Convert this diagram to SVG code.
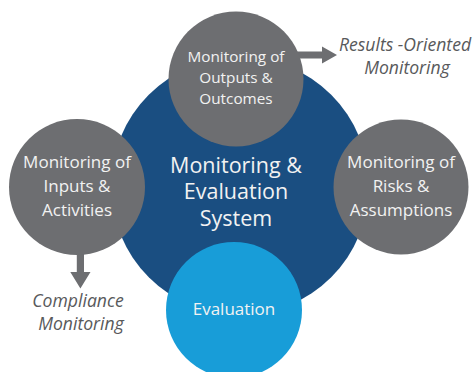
<svg xmlns="http://www.w3.org/2000/svg" width="474" height="372" viewBox="0 0 474 372">
<style>
.gray{fill:#6d6e71}
.lbl{font-family:"Open Sans","Liberation Sans",sans-serif;fill:#f2f2f2;text-anchor:middle}
.it{font-family:"Open Sans","Liberation Sans",sans-serif;font-style:italic;fill:#58595b;text-anchor:middle;font-size:17.6px}
</style>
<rect width="474" height="372" fill="#ffffff"/>
<g id="connectors">
<path class="gray" d="M290 51.5 H322 V46.5 L337 55 L322 63.5 V58.5 H290 Z"/>
<path class="gray" d="M76.8 240 H84 V272 H90.5 L80.4 288.5 L70.3 272 H76.8 Z"/>
</g>
<g id="system">
<circle cx="240" cy="186" r="129" fill="#1a4e81"/>
<text class="lbl" font-size="21.5" x="236"><tspan x="236" y="173">Monitoring &amp;</tspan><tspan x="236" y="199">Evaluation</tspan><tspan x="236" y="226">System</tspan></text>
</g>
<g id="outputs">
<circle class="gray" cx="236" cy="79" r="67.5"/>
<text class="lbl" font-size="15.3"><tspan x="236" y="62">Monitoring of</tspan><tspan x="236" y="83">Outputs &amp;</tspan><tspan x="236" y="104">Outcomes</tspan></text>
</g>
<g id="inputs">
<circle class="gray" cx="77" cy="187" r="68"/>
<text class="lbl" font-size="17"><tspan x="77" y="168">Monitoring of</tspan><tspan x="77" y="192">Inputs &amp;</tspan><tspan x="77" y="216">Activities</tspan></text>
</g>
<g id="risks">
<circle class="gray" cx="401" cy="187" r="67.5"/>
<text class="lbl" font-size="17"><tspan x="401" y="168">Monitoring of</tspan><tspan x="401" y="192">Risks &amp;</tspan><tspan x="401" y="216">Assumptions</tspan></text>
</g>
<g id="evaluation">
<circle cx="234" cy="310" r="68" fill="#189dd8"/>
<text class="lbl" font-size="17" x="234" y="315">Evaluation</text>
</g>
<g id="results">
<text class="it"><tspan x="405" y="51">Results -Oriented</tspan><tspan x="407" y="74">Monitoring</tspan></text>
</g>
<g id="compliance">
<text class="it"><tspan x="78" y="307">Compliance</tspan><tspan x="81" y="330">Monitoring</tspan></text>
</g>
</svg>
